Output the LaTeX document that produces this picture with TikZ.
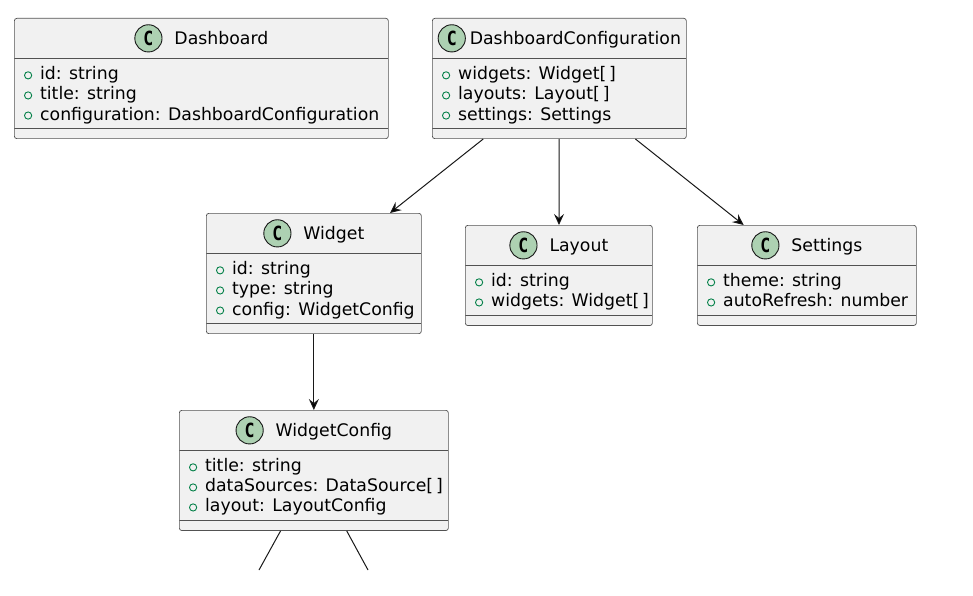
\documentclass[tikz,border=0pt]{standalone}
\usepackage{fontspec}
\setmainfont{DejaVu Sans}
\newfontfamily\iconfont{DejaVu Sans Mono}
\usetikzlibrary{arrows.meta}
\definecolor{classfill}{HTML}{F1F1F1}
\definecolor{classline}{HTML}{181818}
\definecolor{iconfill}{HTML}{ADD1B2}
\definecolor{pubgreen}{HTML}{038048}
\tikzset{
    %Define standard arrow tip
    >={Stealth[length=11pt,width=10pt,inset=4pt]},
    %Define style for class boxes
    umlclass/.style={
           rectangle,
           rounded corners=2.5pt,
           draw=classline!75, line width=0.7pt,
           fill=classfill,
           inner sep=0pt,
           anchor=north west,
           font=\fontsize{17.3}{20}\selectfont,
           path picture={
             \draw[classline!75, line width=0.7pt]
               ([yshift=-40pt]path picture bounding box.north west) -- ([yshift=-40pt]path picture bounding box.north east)
               ([yshift=10pt]path picture bounding box.south west) -- ([yshift=10pt]path picture bounding box.south east);
           }},
    % Define arrow style
    assoc/.style={
           ->,
           draw=classline,
           line width=1pt}
}
% class icon and title
\newcommand{\cicon}{\tikz[baseline=-6.3pt]\draw[fill=iconfill,draw=classline,line width=0.9pt] (0pt,0pt) circle[radius=13.6pt];\hspace{-14.05pt}\makebox[0pt]{\raisebox{-0.8pt}{\scalebox{0.85}[1]{\iconfont\fontsize{19.5}{19.5}\bfseries C}}}\hspace{14.05pt}}
\newcommand{\ctitle}[2][12pt]{\rule[-13.7pt]{0pt}{40pt}\cicon\hspace{#1}#2}
% public attributes, one line each
\newcommand{\attr}[1]{\hbox{\rule[-3.5pt]{0pt}{20pt}\hspace{9.7pt}\tikz[baseline=-4.5pt]\draw[draw=pubgreen,line width=0.9pt] (0pt,0pt) circle[radius=3.6pt];\hspace{8pt}#1}}
% box body: width, title, attributes
\newcommand{\classbody}[3]{\vbox{\offinterlineskip\hbox to #1{\hss#2\hss}\kern5pt#3\kern15pt}}

\begin{document}
\begin{tikzpicture}[x=1pt,y=-1pt]
\useasboundingbox (0,0) rectangle (973,596);
 %nodes
\node[umlclass] (dashboard) at (14,18)
  {\classbody{374pt}{\ctitle{Dashboard}}
    {\attr{id: string}\attr{title: string}\attr{configuration: DashboardConfiguration}}};
\node[umlclass] (dashconf) at (432,18)
  {\classbody{254pt}{\ctitle[4pt]{DashboardConfiguration}}
    {\attr{widgets: Widget[\,]}\attr{layouts: Layout[\,]}\attr{settings: Settings}}};
\node[umlclass] (widget) at (206,213)
  {\classbody{215pt}{\ctitle{Widget}}
    {\attr{id: string}\attr{type: string}\attr{config: WidgetConfig}}};
\node[umlclass] (layout) at (465,225)
  {\classbody{187pt}{\ctitle{Layout}}
    {\attr{id: string}\attr{widgets: Widget[\,]}}};
\node[umlclass] (settings) at (697,225)
  {\classbody{219pt}{\ctitle{Settings}}
    {\attr{theme: string}\attr{autoRefresh: number}}};
\node[umlclass] (widgetconf) at (179,410)
  {\classbody{269pt}{\ctitle{WidgetConfig}}
    {\attr{title: string}\attr{dataSources: DataSource[\,]}\attr{layout: LayoutConfig}}};
\coordinate (cut1) at (259,570);
\coordinate (cut2) at (368,570);
 \path[assoc]
   (dashconf) edge (widget)
   (dashconf) edge (layout)
   (dashconf) edge (settings)
   (widget) edge (widgetconf)
   (widgetconf) edge[-] (cut1)
   (widgetconf) edge[-] (cut2);
\end{tikzpicture}
\end{document}
